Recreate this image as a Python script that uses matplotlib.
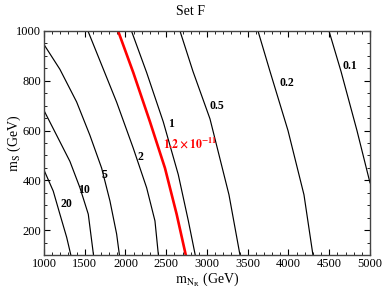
import matplotlib
matplotlib.use("Agg")
import matplotlib.pyplot as plt
from matplotlib.ticker import MultipleLocator

plt.rcParams['font.family'] = ['Liberation Serif', 'DejaVu Serif']
plt.rcParams['mathtext.fontset'] = 'stix'

# contour data (m_NR in GeV, m_S in GeV)
c20_x = [1000, 1114, 1196, 1279, 1330]
c20_y = [442, 357, 264, 171, 100]
c10_x = [1000, 1156, 1319, 1442, 1544, 1608]
c10_y = [681, 581, 476, 370, 264, 100]
c5_x = [1000, 1196, 1401, 1564, 1708, 1810, 1892, 1926]
c5_y = [946, 846, 715, 581, 449, 317, 184, 100]
c2_x = [1540, 1892, 2096, 2260, 2362, 2404]
c2_y = [1000, 714, 529, 370, 237, 100]
cred_x = [1910, 2096, 2301, 2485, 2628, 2740]
cred_y = [1000, 833, 635, 449, 264, 100]
c1_x = [2074, 2260, 2464, 2648, 2771, 2856]
c1_y = [1000, 833, 635, 423, 238, 100]
c05_x = [2669, 2828, 3037, 3270, 3405]
c05_y = [1000, 838, 647, 342, 100]
c02_x = [3626, 3773, 3994, 4190, 4300]
c02_y = [1000, 838, 600, 342, 100]
c01_x = [4497, 4644, 4840, 5000]
c01_y = [1000, 838, 600, 390]

black_curves = [(c20_x, c20_y), (c10_x, c10_y), (c5_x, c5_y), (c2_x, c2_y),
                (c1_x, c1_y), (c05_x, c05_y), (c02_x, c02_y), (c01_x, c01_y)]

label_text = ['20', '10', '5', '2', '1', '0.5', '0.2', '0.1']
label_x = [1270, 1491, 1740, 2178, 2558, 3119, 3978, 4755]
label_y = [306, 360, 420, 495, 628, 700, 792, 858]

red_label = r'$\mathbf{1.2\times10^{-11}}$'
red_label_x = 2464
red_label_y = 551

fig = plt.figure(figsize=(3.82, 2.91), dpi=100)
ax = fig.add_axes([0.115, 0.1237, 0.8536, 0.7698])

for cx, cy in black_curves:
    ax.plot(cx, cy, color='black', lw=0.85)
ax.plot(cred_x, cred_y, color='red', lw=1.9)

for t, lx, ly in zip(label_text, label_x, label_y):
    ax.text(lx, ly, t, fontsize=8.5, fontweight='bold', ha='center', va='center')
ax.text(red_label_x, red_label_y, red_label, fontsize=8.5, color='red',
        ha='left', va='center')

ax.set_xlim(1000, 5000)
ax.set_ylim(100, 1000)
ax.xaxis.set_major_locator(MultipleLocator(500))
ax.xaxis.set_minor_locator(MultipleLocator(100))
ax.yaxis.set_major_locator(MultipleLocator(200))
ax.yaxis.set_minor_locator(MultipleLocator(50))
ax.tick_params(which='both', direction='in', top=True, right=True, labelsize=9, pad=2)
ax.tick_params(which='major', length=4)
ax.tick_params(which='minor', length=2)
for s in ax.spines.values():
    s.set_linewidth(1.0)
    s.set_color('#444444')

ax.set_xlabel(r'$\mathrm{m_{N_R}}$ (GeV)', fontsize=10, labelpad=1)
ax.set_ylabel(r'$\mathrm{m_S}$ (GeV)', fontsize=10, va='center')
ax.yaxis.set_label_coords(-0.09, 0.5)
fig.text(0.5, 0.96, 'Set F', ha='center', va='center', fontsize=10)

fig.savefig('out.png', dpi=100)
